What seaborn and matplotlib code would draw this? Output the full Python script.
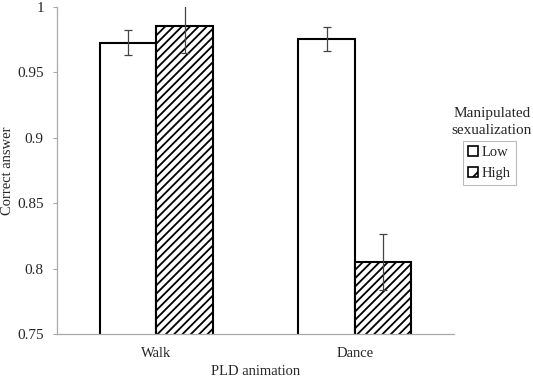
import matplotlib
matplotlib.use("Agg")
import matplotlib.pyplot as plt
import seaborn as sns
import pandas as pd
import numpy as np
from matplotlib.patches import Patch
from matplotlib.ticker import FuncFormatter

animations = ["Walk", "Dance"]
levels = ["Low", "High"]
low_means = [0.9727, 0.9755]
high_means = [0.9855, 0.8052]
low_err = [0.0095, 0.0095]
high_err = [0.021, 0.0215]

df = pd.DataFrame({
    "PLD animation": animations * 2,
    "Manipulated sexualization": ["Low"] * 2 + ["High"] * 2,
    "Correct answer": low_means + high_means,
})
errs = {"Low": low_err, "High": high_err}

sns.set_style("white")
plt.rcParams["font.family"] = ["Liberation Serif", "DejaVu Serif"]
plt.rcParams["hatch.linewidth"] = 1.3
plt.rcParams["hatch.color"] = "black"

fig = plt.figure(figsize=(5.33, 3.79), dpi=100)
ax = fig.add_axes([0.107, 0.119, 0.745, 0.8625])

sns.barplot(data=df, x="PLD animation", y="Correct answer",
            hue="Manipulated sexualization", hue_order=levels,
            order=animations, palette=["white", "white"], width=0.57,
            errorbar=None, edgecolor="black", linewidth=1.5, ax=ax,
            legend=False)

for cont, lvl in zip(ax.containers, levels):
    for bar, e in zip(cont, errs[lvl]):
        if lvl == "High":
            bar.set_hatch("////")
        xc = bar.get_x() + bar.get_width() / 2
        ax.errorbar(xc, bar.get_height(), yerr=e, color="#444444",
                    elinewidth=0.9, capsize=3, capthick=0.9, zorder=5)

ax.set_ylim(0.75, 1.0)
ax.set_xlim(-0.5, 1.5)
ax.set_yticks([0.75, 0.8, 0.85, 0.9, 0.95, 1.0])
ax.yaxis.set_major_formatter(FuncFormatter(lambda v, p: "%g" % round(v, 2)))
ax.tick_params(axis="y", which="major", left=True, length=3, width=0.8,
               color="#aaaaaa", labelsize=11, pad=6.5)
ax.tick_params(axis="x", bottom=False, labelsize=10.5, pad=6)
for s in ["top", "right"]:
    ax.spines[s].set_visible(False)
for s in ["left", "bottom"]:
    ax.spines[s].set_color("#aaaaaa")
    ax.spines[s].set_linewidth(0.9)
ax.set_xlabel("PLD animation", fontsize=10.5)
ax.set_ylabel("Correct answer", fontsize=10.5)
ax.xaxis.set_label_coords(0.5, -0.095)
ax.yaxis.set_label_coords(-0.108, 0.5)

handles = [Patch(facecolor="white", edgecolor="black", linewidth=1.2, label="Low"),
           Patch(facecolor="white", edgecolor="black", linewidth=1.2, hatch="//", label="High")]
leg = fig.legend(handles=handles, loc="upper left",
                 bbox_to_anchor=(463 / 533, 1 - 141 / 379),
                 frameon=True, fancybox=False, edgecolor="#aaaaaa",
                 handlelength=0.7, handleheight=0.7, handletextpad=0.25,
                 borderpad=0.35, labelspacing=0.5, borderaxespad=0,
                 prop={"size": 10.5})
leg.get_frame().set_linewidth(0.8)
fig.text(492 / 533, 1 - 122 / 379, "Manipulated\nsexualization", ha="center",
         va="center", fontsize=11, linespacing=1.35)

fig.savefig("out.png", dpi=100)
